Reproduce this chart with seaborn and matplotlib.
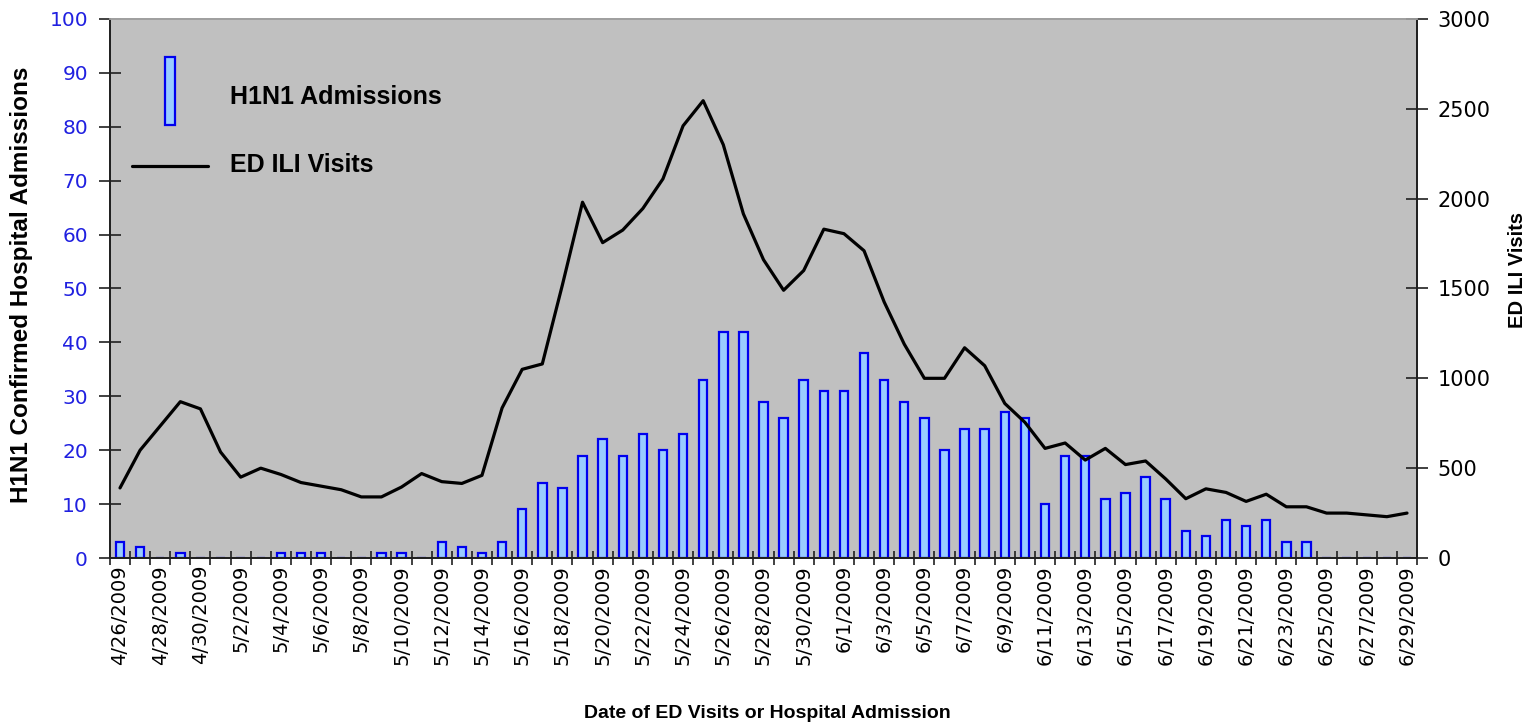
import numpy as np
import pandas as pd
import matplotlib
matplotlib.use("Agg")
import matplotlib.pyplot as plt
from matplotlib.patches import Rectangle
from matplotlib.lines import Line2D
from matplotlib.legend_handler import HandlerPatch, HandlerBase
import seaborn as sns

# daily categories 4/26/2009 .. 6/29/2009
dates = [f"{d.month}/{d.day}/{d.year}" for d in pd.date_range("2009-04-26", "2009-06-29")]

admissions = [3, 2, 0, 1, 0,
              0, 0, 0, 1, 1, 1, 0, 0, 1, 1, 0, 3, 2, 1, 3, 9, 14, 13, 19, 22, 19, 23, 20, 23,
              33, 42, 42, 29, 26, 33, 31,
              31, 38, 33, 29, 26, 20, 24, 24, 27, 26, 10, 19, 19, 11, 12, 15, 11, 5, 4, 7, 6,
              7, 3, 3, 0, 0, 0, 0, 0]

ili_visits = [390, 600, 735, 870, 830,
              590, 450, 500, 465, 420, 400, 380, 340, 340, 395, 470, 425, 415, 460, 835, 1050,
              1080, 1520, 1980, 1755, 1825, 1945, 2110, 2405, 2545, 2300, 1915, 1660, 1490,
              1600, 1830,
              1805, 1710, 1425, 1190, 1000, 1000, 1170, 1070, 860, 755, 610, 640, 545, 610,
              520, 540, 440, 330, 385, 365, 315, 355, 285, 285, 250, 250, 240, 230, 250]

df = pd.DataFrame({"date": dates, "admissions": admissions, "visits": ili_visits})
df["pos"] = np.arange(len(df))

sns.set_style("ticks")
plt.rcParams["font.family"] = ["Liberation Sans", "DejaVu Sans"]
plt.rcParams["text.color"] = "black"
plt.rcParams["axes.labelcolor"] = "black"
plt.rcParams["xtick.color"] = "black"
plt.rcParams["ytick.color"] = "black"

bar_face = "#99CCFF"
bar_edge = "#0000EE"
tick_font = "DejaVu Sans"

fig = plt.figure(figsize=(15.27, 7.28), dpi=100)
ax = fig.add_axes([0.072, 0.2335, 0.856, 0.7405])
ax.set_facecolor("#C0C0C0")

sns.barplot(data=df, x="date", y="admissions", color=bar_face, saturation=1,
            width=0.42, edgecolor=bar_edge, linewidth=1.6, ax=ax)

ax2 = ax.twinx()
sns.lineplot(data=df, x="pos", y="visits", color="black", linewidth=2.3, ax=ax2)

ax.set_xlim(-0.5, len(df) - 0.5)
ax.set_ylim(0, 100)
ax2.set_ylim(0, 3000)
ax.set_yticks(range(0, 101, 10))
ax2.set_yticks(range(0, 3001, 500))

# labels every other day, tick marks on category boundaries
ax.set_xticks(range(0, len(df), 2))
ax.set_xticklabels(dates[::2], rotation=90, fontsize=14, family=tick_font)
ax.set_xticks(np.arange(-0.5, len(df), 1), minor=True)
ax.tick_params(axis="x", which="major", length=0, pad=5)
ax.tick_params(axis="x", which="minor", length=10, direction="inout", width=1.2, color="#202020")
ax.tick_params(axis="y", length=16, direction="inout", width=1.2, color="#202020",
               labelsize=14.5, labelcolor="#2020E0", pad=7.8)
ax2.tick_params(axis="y", length=16, direction="inout", width=1.2, color="#202020",
                labelsize=15, pad=6.5)
for lab in ax.get_yticklabels() + ax2.get_yticklabels():
    lab.set_family(tick_font)

ax.set_xlabel("Date of ED Visits or Hospital Admission", fontsize=14, fontweight="bold")
ax.xaxis.set_label_coords(0.503, -0.273)
ax.set_ylabel("H1N1 Confirmed Hospital Admissions", fontsize=17.5, fontweight="bold")
ax.yaxis.set_label_coords(-0.0585, 0.506)
ax2.set_ylabel("ED ILI Visits", fontsize=14.5, fontweight="bold")
ax2.yaxis.set_label_coords(1.0695, 0.534)

for a in (ax, ax2):
    for side in ("left", "bottom", "right"):
        a.spines[side].set_color("#202020")
        a.spines[side].set_linewidth(1.3)
    a.spines["top"].set_color("#A0A0A0")
    a.spines["top"].set_linewidth(1.3)


def tall_bar(legend, orig_handle, xdescent, ydescent, width, height, fontsize):
    # narrow upright bar, sitting a little above the text centre
    w = width * 0.122
    h = fontsize * 2.72
    yc = fontsize * 0.52
    return Rectangle((width / 2 - w / 2 - xdescent, yc - h / 2), w, h)


class FlatLine(HandlerBase):
    def create_artists(self, legend, orig_handle, xdescent, ydescent, width, height,
                       fontsize, trans):
        y = fontsize * 0.24
        line = Line2D([-xdescent, width - xdescent], [y, y], color=orig_handle.get_color(),
                      linewidth=orig_handle.get_linewidth(), transform=trans)
        return [line]


bar_handle = Rectangle((0, 0), 1, 1, facecolor=bar_face, edgecolor=bar_edge, linewidth=1.6)
line_handle = Line2D([], [], color="black", linewidth=2.3)
ax2.legend([bar_handle, line_handle], ["H1N1 Admissions", "ED ILI Visits"],
           handler_map={Rectangle: HandlerPatch(patch_func=tall_bar), Line2D: FlatLine()},
           loc="upper left", bbox_to_anchor=(0.0168, 0.9174), frameon=False,
           prop={"weight": "bold", "size": 18}, handlelength=3.04, handleheight=3.78,
           labelspacing=0.02, handletextpad=0.88, borderpad=0, borderaxespad=0)

fig.savefig("out.png", dpi=100)
plt.close(fig)
